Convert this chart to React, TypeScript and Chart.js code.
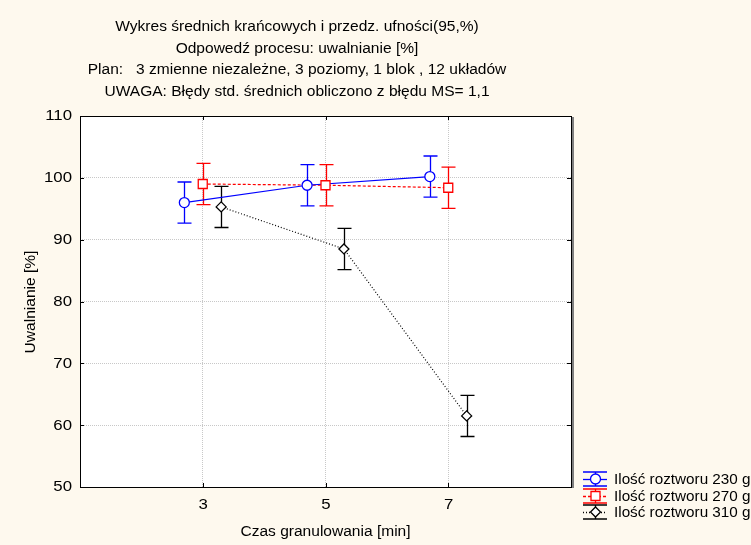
import React, { useEffect, useRef } from "react";
import { Chart, registerables } from "chart.js";

Chart.register(...registerables);

const titleLines = [
  "Wykres średnich krańcowych i przedz. ufności(95,%)",
  "Odpowedź procesu: uwalnianie [%]",
  "Plan:   3 zmienne niezależne, 3 poziomy, 1 blok , 12 układów",
  "UWAGA: Błędy std. średnich obliczono z błędu MS= 1,1",
];
const xTicks = [3, 5, 7];
const yTicks = [50, 60, 70, 80, 90, 100, 110];
const xPos230 = [2.7, 4.7, 6.7];
const xPos270 = [3.0, 5.0, 7.0];
const xPos310 = [3.3, 5.3, 7.3];
const means230 = [96.0, 98.8, 100.2];
const means270 = [99.0, 98.8, 98.4];
const means310 = [95.3, 88.5, 61.5];
const err230 = [3.33, 3.33, 3.33];
const err270 = [3.33, 3.33, 3.33];
const err310 = [3.33, 3.33, 3.33];
const seriesLabels = ["Ilość roztworu 230 g", "Ilość roztworu 270 g", "Ilość roztworu 310 g"];
const xTitle = "Czas granulowania [min]";
const yTitle = "Uwalnianie [%]";

const FONT = "'Liberation Sans', Arial, sans-serif";
const BG = "#fef9ee";
const SX = 1.11;

type Sty = { color: string; dash: number[]; marker: string; err: number[] };
const styles: Sty[] = [
  { color: "#0000ff", dash: [], marker: "circle", err: err230 },
  { color: "#ff0000", dash: [3, 2], marker: "rect", err: err270 },
  { color: "#000000", dash: [1, 2], marker: "rectRot", err: err310 },
];

function txt(ctx: CanvasRenderingContext2D, s: string, x: number, y: number, align: CanvasTextAlign, sx = SX) {
  ctx.save();
  ctx.font = `14px ${FONT}`;
  ctx.fillStyle = "#000";
  ctx.textAlign = align;
  ctx.textBaseline = "middle";
  ctx.translate(x, y);
  ctx.scale(sx, 1);
  ctx.fillText(s, 0, 0);
  ctx.restore();
}

function drawMarker(ctx: CanvasRenderingContext2D, kind: string, x: number, y: number, color: string) {
  ctx.save();
  ctx.setLineDash([]);
  ctx.fillStyle = "#ffffff";
  ctx.strokeStyle = color;
  ctx.lineWidth = 1.3;
  ctx.beginPath();
  if (kind === "circle") ctx.arc(x, y, 5, 0, Math.PI * 2);
  else if (kind === "rect") ctx.rect(x - 4.5, y - 4.5, 9, 9);
  else {
    ctx.moveTo(x, y - 5);
    ctx.lineTo(x + 5, y);
    ctx.lineTo(x, y + 5);
    ctx.lineTo(x - 5, y);
    ctx.closePath();
  }
  ctx.fill();
  ctx.stroke();
  ctx.restore();
}

const customPlugin = {
  id: "custom",
  beforeDraw(chart: any) {
    const { ctx, chartArea: a } = chart;
    ctx.save();
    ctx.fillStyle = BG;
    ctx.fillRect(0, 0, chart.width, chart.height);
    ctx.fillStyle = "#ffffff";
    ctx.fillRect(a.left, a.top, a.right - a.left, a.bottom - a.top);
    ctx.restore();
  },
  beforeDatasetsDraw(chart: any) {
    const { ctx } = chart;
    const xs = chart.scales.x;
    const ys = chart.scales.y;
    chart.data.datasets.forEach((ds: any, i: number) => {
      const st = styles[i];
      ctx.save();
      ctx.strokeStyle = st.color;
      ctx.lineWidth = 1.3;
      ds.data.forEach((p: any, j: number) => {
        const px = Math.round(xs.getPixelForValue(p.x)) + 0.5;
        const yt = ys.getPixelForValue(p.y + st.err[j]);
        const yb = ys.getPixelForValue(p.y - st.err[j]);
        ctx.beginPath();
        ctx.moveTo(px, yt);
        ctx.lineTo(px, yb);
        ctx.moveTo(px - 7, yt);
        ctx.lineTo(px + 7, yt);
        ctx.moveTo(px - 7, yb);
        ctx.lineTo(px + 7, yb);
        ctx.stroke();
      });
      ctx.restore();
    });
  },
  afterDatasetsDraw(chart: any) {
    const { ctx, chartArea: a } = chart;
    const xs = chart.scales.x;
    const ys = chart.scales.y;
    chart.data.datasets.forEach((ds: any, i: number) => {
      ds.data.forEach((p: any) => {
        drawMarker(ctx, styles[i].marker, xs.getPixelForValue(p.x), ys.getPixelForValue(p.y), styles[i].color);
      });
    });
    ctx.save();
    // frame
    ctx.strokeStyle = "#000";
    ctx.lineWidth = 1;
    ctx.strokeRect(Math.round(a.left) + 0.5, Math.round(a.top) + 0.5, Math.round(a.right - a.left), Math.round(a.bottom - a.top));
    ctx.strokeStyle = "#808080";
    ctx.lineWidth = 2;
    ctx.beginPath();
    ctx.moveTo(Math.round(a.right) + 2, a.top + 1);
    ctx.lineTo(Math.round(a.right) + 2, a.bottom + 1);
    ctx.stroke();
    // inside ticks
    ctx.strokeStyle = "#000";
    ctx.lineWidth = 1;
    ctx.beginPath();
    [60, 70, 80, 90, 100].forEach((v) => {
      const y = Math.round(ys.getPixelForValue(v)) + 0.5;
      ctx.moveTo(a.left, y);
      ctx.lineTo(a.left + 4, y);
      ctx.moveTo(a.right, y);
      ctx.lineTo(a.right - 4, y);
    });
    xTicks.forEach((v) => {
      const x = Math.round(xs.getPixelForValue(v)) + 0.5;
      ctx.moveTo(x, a.bottom);
      ctx.lineTo(x, a.bottom - 4);
      ctx.moveTo(x, a.top);
      ctx.lineTo(x, a.top + 4);
    });
    ctx.stroke();
    ctx.restore();

    // tick labels
    yTicks.forEach((v) => txt(ctx, String(v), 72, ys.getPixelForValue(v) + 0.5, "right", 1.2));
    xTicks.forEach((v) => txt(ctx, String(v), xs.getPixelForValue(v) + 0.5, 505, "center", 1.2));

    // title
    titleLines.forEach((t, k) => txt(ctx, t, 297, 27 + k * 21.7, "center"));

    // axis titles
    txt(ctx, xTitle, 325.5, 532, "center");
    ctx.save();
    ctx.translate(31, 302);
    ctx.rotate(-Math.PI / 2);
    txt(ctx, yTitle, 0, 0, "center");
    ctx.restore();

    // legend
    const rows = [479, 496, 512];
    rows.forEach((cy, i) => {
      const st = styles[i];
      const x0 = 583, x1 = 607, cx = 595;
      ctx.save();
      ctx.strokeStyle = st.color;
      ctx.lineWidth = 1.3;
      ctx.beginPath();
      ctx.moveTo(x0, cy - 7);
      ctx.lineTo(x1, cy - 7);
      ctx.moveTo(x0, cy + 7);
      ctx.lineTo(x1, cy + 7);
      ctx.moveTo(cx + 0.5, cy - 7);
      ctx.lineTo(cx + 0.5, cy + 7);
      ctx.stroke();
      ctx.setLineDash(st.dash);
      ctx.beginPath();
      ctx.moveTo(x0, cy + 0.5);
      ctx.lineTo(x1, cy + 0.5);
      ctx.stroke();
      ctx.restore();
      drawMarker(ctx, st.marker, cx + 0.5, cy, st.color);
      txt(ctx, seriesLabels[i], 614, cy + 1, "left", 1.09);
    });
  },
};

export default function App() {
  const ref = useRef<HTMLCanvasElement>(null);
  useEffect(() => {
    document.body.style.margin = "0";
    document.body.style.background = BG;
    const mk = (xs: number[], ys: number[]) => xs.map((x, i) => ({ x, y: ys[i] }));
    const chart = new Chart(ref.current!, {
      type: "line",
      data: {
        datasets: [
          { label: seriesLabels[0], data: mk(xPos230, means230), borderColor: "#0000ff", borderWidth: 1.2, pointRadius: 0, fill: false },
          { label: seriesLabels[1], data: mk(xPos270, means270), borderColor: "#ff0000", borderDash: [3, 2], borderWidth: 1.2, pointRadius: 0, fill: false },
          { label: seriesLabels[2], data: mk(xPos310, means310), borderColor: "#000000", borderDash: [1, 2], borderWidth: 1.2, pointRadius: 0, fill: false },
        ],
      },
      options: {
        responsive: false,
        animation: false,
        layout: { padding: { left: 0, right: 180, top: 116, bottom: 0 } },
        plugins: { legend: { display: false }, tooltip: { enabled: false }, title: { display: false } },
        scales: {
          x: {
            type: "linear",
            min: 1,
            max: 9,
            afterBuildTicks: (s: any) => {
              s.ticks = xTicks.map((v) => ({ value: v }));
            },
            afterFit: (s: any) => {
              s.height = 58;
            },
            grid: { color: "#c8c8c8", drawTicks: false },
            border: { display: false, dash: [1, 1] },
            ticks: { display: false },
          },
          y: {
            min: 50,
            max: 110,
            afterBuildTicks: (s: any) => {
              s.ticks = yTicks.map((v) => ({ value: v }));
            },
            afterFit: (s: any) => {
              s.width = 80;
            },
            grid: { color: (c: any) => (c.tick && (c.tick.value === 50 || c.tick.value === 110) ? "rgba(0,0,0,0)" : "#c8c8c8"), drawTicks: false },
            border: { display: false, dash: [1, 1] },
            ticks: { display: false },
          },
        },
      } as any,
      plugins: [customPlugin],
    });
    return () => chart.destroy();
  }, []);
  return <canvas ref={ref} width={751} height={545} style={{ display: "block" }} />;
}
